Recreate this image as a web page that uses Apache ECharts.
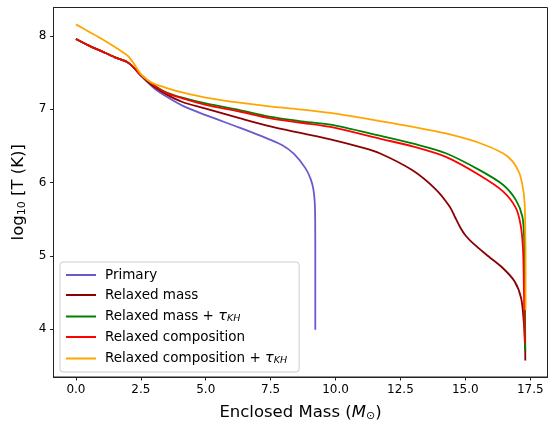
<!DOCTYPE html>
<html>
<head>
<meta charset="utf-8">
<script src="https://cdn.jsdelivr.net/npm/echarts@6/dist/echarts.min.js"></script>
<style>
  html, body { margin: 0; padding: 0; background: #fff; }
  #chart { width: 548px; height: 423px; }
</style>
</head>
<body>
<div id="chart"></div>
<script>
// Temperature profiles: enclosed mass (solar masses) vs log10 T (K)
const primaryMass = [0, 0.5, 1.0, 1.5, 2.0, 2.2, 2.5, 3.0, 3.5, 4.1, 5.0, 6.3, 7.1, 7.95, 8.4, 8.85, 9.05, 9.15, 9.2, 9.215, 9.22, 9.22];
const primaryLogT = [7.96, 7.87, 7.79, 7.71, 7.64, 7.58, 7.46, 7.29, 7.17, 7.05, 6.92, 6.75, 6.64, 6.51, 6.39, 6.19, 6.04, 5.90, 5.72, 5.5, 5.0, 3.99];

const relaxedMassMass = [0, 0.5, 1.0, 1.5, 2.0, 2.2, 2.5, 3.0, 3.5, 4.1, 5.0, 6.3, 7.45, 8.6, 9.8, 11.0, 11.7, 12.95, 13.85, 14.4, 14.6, 14.8, 15.0, 15.3, 15.9, 16.45, 16.9, 17.15, 17.25, 17.3, 17.31];
const relaxedMassLogT = [7.96, 7.87, 7.79, 7.71, 7.64, 7.58, 7.46, 7.31, 7.20, 7.10, 7.01, 6.88, 6.77, 6.68, 6.59, 6.48, 6.40, 6.17, 5.91, 5.67, 5.53, 5.39, 5.28, 5.17, 4.99, 4.83, 4.65, 4.42, 4.1, 3.8, 3.57];

const relaxedMassKHMass = [0, 0.5, 1.0, 1.5, 2.0, 2.2, 2.5, 3.0, 3.5, 4.1, 5.0, 6.3, 7.45, 8.6, 9.8, 11.7, 13.0, 14.25, 15.55, 16.45, 16.95, 17.2, 17.27, 17.29, 17.3, 17.31];
const relaxedMassKHLogT = [7.96, 7.87, 7.79, 7.71, 7.64, 7.58, 7.47, 7.33, 7.23, 7.16, 7.08, 6.99, 6.90, 6.84, 6.79, 6.64, 6.53, 6.40, 6.17, 5.97, 5.76, 5.53, 5.2, 4.8, 4.2, 3.7];

const relaxedCompMass = [0, 0.5, 1.0, 1.5, 2.0, 2.2, 2.5, 3.0, 3.5, 4.1, 5.0, 6.3, 7.45, 8.6, 9.8, 11.7, 13.0, 14.25, 15.55, 16.45, 16.95, 17.14, 17.22, 17.25, 17.27, 17.29];
const relaxedCompLogT = [7.96, 7.87, 7.79, 7.71, 7.64, 7.58, 7.47, 7.33, 7.22, 7.15, 7.06, 6.97, 6.88, 6.82, 6.76, 6.60, 6.49, 6.35, 6.10, 5.88, 5.65, 5.40, 5.1, 4.7, 4.2, 3.81];

const relaxedCompKHMass = [0, 0.5, 1.0, 1.5, 1.8, 2.0, 2.2, 2.5, 2.8, 3.0, 3.5, 4.1, 5.0, 6.3, 7.45, 8.6, 9.8, 11.7, 13.0, 14.25, 15.55, 16.45, 16.82, 17.08, 17.23, 17.29, 17.31, 17.32, 17.32];
const relaxedCompKHLogT = [8.16, 8.06, 7.96, 7.85, 7.78, 7.73, 7.64, 7.48, 7.39, 7.35, 7.29, 7.23, 7.16, 7.09, 7.04, 7.00, 6.95, 6.84, 6.76, 6.67, 6.54, 6.40, 6.29, 6.13, 5.90, 5.67, 5.3, 5.0, 4.26];

const xTicks = [0, 2.5, 5, 7.5, 10, 12.5, 15, 17.5];
const yTicks = [4, 5, 6, 7, 8];

const seriesNames = [
  'Primary',
  'Relaxed mass',
  'Relaxed mass + τKH',
  'Relaxed composition',
  'Relaxed composition + τKH'
];
const seriesColors = ['#6a5acd', '#8b0000', '#008000', '#ff0000', '#ffa500'];
const seriesData = [
  [primaryMass, primaryLogT],
  [relaxedMassMass, relaxedMassLogT],
  [relaxedMassKHMass, relaxedMassKHLogT],
  [relaxedCompMass, relaxedCompLogT],
  [relaxedCompKHMass, relaxedCompKHLogT]
];

const font = 'DejaVu Sans';
const chart = echarts.init(document.getElementById('chart'), null, { renderer: 'canvas' });

const series = seriesData.map(function (pair, i) {
  return {
    name: seriesNames[i],
    type: 'line',
    data: pair[0].map(function (m, k) { return [m, pair[1][k]]; }),
    showSymbol: false,
    smooth: 0.3,
    lineStyle: { color: seriesColors[i], width: 1.8 },
    itemStyle: { color: seriesColors[i] },
    emphasis: { disabled: true },
    animation: false
  };
});

chart.setOption({
  animation: false,
  backgroundColor: '#fff',
  grid: {
    left: 53.5, top: 7.5, right: 0.5, bottom: 46,
    outerBoundsMode: 'none',
    containLabel: false,
    show: true, borderColor: '#222', borderWidth: 1, backgroundColor: 'transparent'
  },
  legend: {
    orient: 'vertical',
    left: 60, top: 262,
    data: seriesNames,
    icon: 'rect',
    itemWidth: 30, itemHeight: 2,
    itemGap: 6,
    padding: [6, 12, 6, 6],
    backgroundColor: 'rgba(255,255,255,0.8)',
    borderColor: '#cccccc', borderWidth: 1, borderRadius: 3,
    formatter: function (name) {
      if (name.indexOf('τKH') >= 0) {
        return '{a|' + name.replace('τKH', '') + '}{t|τ}{s|KH}';
      }
      return '{a|' + name + '}';
    },
    textStyle: {
      fontFamily: font, fontSize: 13.5, color: '#000', padding: [0, 0, 0, 4],
      rich: {
        a: { fontFamily: font, fontSize: 13.5, color: '#000', lineHeight: 15 },
        t: { fontFamily: font, fontSize: 14.5, fontStyle: 'italic', color: '#000', lineHeight: 15 },
        s: { fontFamily: font, fontSize: 9.5, fontStyle: 'italic', color: '#000', lineHeight: 15, verticalAlign: 'bottom', padding: [6, 0, 0, 0] }
      }
    }
  },
  xAxis: {
    type: 'value',
    min: -0.865, max: 18.165,
    splitLine: { show: false },
    axisLine: { show: true, onZero: false, lineStyle: { color: '#222', width: 1 } },
    axisTick: { show: true, length: 3.5, lineStyle: { color: '#222' }, customValues: xTicks },
    axisLabel: {
      customValues: xTicks, margin: 7,
      fontFamily: font, fontSize: 12, color: '#000',
      formatter: function (v) { return v.toFixed(1); }
    },
    name: '{a|Enclosed Mass (}{i|M}{s|⊙}{a|)}',
    nameLocation: 'middle', nameGap: 26,
    nameTextStyle: {
      fontFamily: font, fontSize: 16.5, color: '#000',
      rich: {
        a: { fontFamily: font, fontSize: 16.5, color: '#000' },
        i: { fontFamily: font, fontSize: 16.5, fontStyle: 'italic', color: '#000' },
        s: { fontFamily: font, fontSize: 11, color: '#000', verticalAlign: 'bottom', padding: [8, 0, 0, 0] }
      }
    }
  },
  yAxis: {
    type: 'value',
    min: 3.345, max: 8.39,
    splitLine: { show: false },
    axisLine: { show: true, onZero: false, lineStyle: { color: '#222', width: 1 } },
    axisTick: { show: true, length: 3.5, lineStyle: { color: '#222' }, customValues: yTicks },
    axisLabel: {
      customValues: yTicks, margin: 7,
      fontFamily: font, fontSize: 12, color: '#000',
      formatter: function (v) { return String(Math.round(v)); }
    },
    name: '{a|log}{s|10}{a| [T (K)]}',
    nameLocation: 'middle', nameGap: 22, nameRotate: 90,
    nameTextStyle: {
      fontFamily: font, fontSize: 16.5, color: '#000',
      rich: {
        a: { fontFamily: font, fontSize: 16.5, color: '#000' },
        s: { fontFamily: font, fontSize: 11, color: '#000', verticalAlign: 'bottom', padding: [8, 0, 0, 0] }
      }
    }
  },
  series: series
});
</script>
</body>
</html>
